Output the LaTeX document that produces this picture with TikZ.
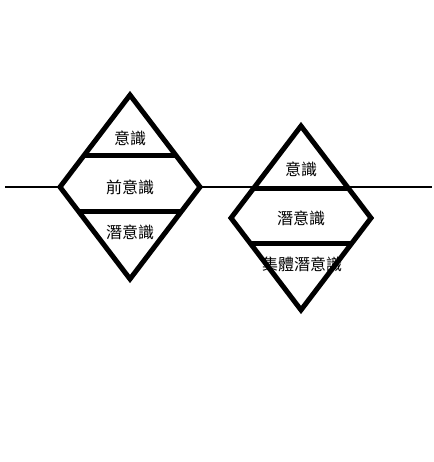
\documentclass[tikz,border=0pt]{standalone}
\usepackage{fontspec}
\newfontfamily\cjk{Noto Sans CJK TC}
\usetikzlibrary{calc}

\begin{document}
\begin{tikzpicture}[x=1pt,y=-1pt,
        bold/.style={line width=5pt},
        txt/.style={font=\cjk\fontsize{16}{16}\selectfont,inner sep=0pt}]
        \useasboundingbox (0,0) rectangle (433,462);
        \draw[line width=1pt] (5,187) coordinate(W) -- (432,187) coordinate(E);

        % left diamond
        \coordinate (LT) at (130,95);
        \coordinate (LL) at (60,187);
        \coordinate (LB) at (130,279);
        \coordinate (LR) at (200,187);
        \filldraw[fill=white,bold] (LT) -- (LR) -- (LB) -- (LL) -- cycle;
        \draw[bold]
        ($(LT)!0.663!(LL)$) -- ($(LT)!0.663!(LR)$)
        ($(LB)!0.739!(LL)$) -- ($(LB)!0.739!(LR)$);
        \node[txt] (L1) at (130,138) {意識};
        \node[txt] (L2) at (130,187) {前意識};
        \node[txt] (L3) at (130,232) {潛意識};

        % right diamond
        \coordinate (RT) at (301,126);
        \coordinate (RL) at (231,218);
        \coordinate (RB) at (301,310);
        \coordinate (RR) at (371,218);
        \filldraw[fill=white,bold] (RT) -- (RR) -- (RB) -- (RL) -- cycle;
        \draw[bold]
        ($(RT)!0.674!(RL)$) -- ($(RT)!0.674!(RR)$)
        ($(RB)!0.728!(RL)$) -- ($(RB)!0.728!(RR)$);
        \node[txt] (R1) at (301,169) {意識};
        \node[txt] (R2) at (301,218) {潛意識};
        \node[txt] (R3) at (302,264) {集體潛意識};
      \end{tikzpicture}
\end{document}
